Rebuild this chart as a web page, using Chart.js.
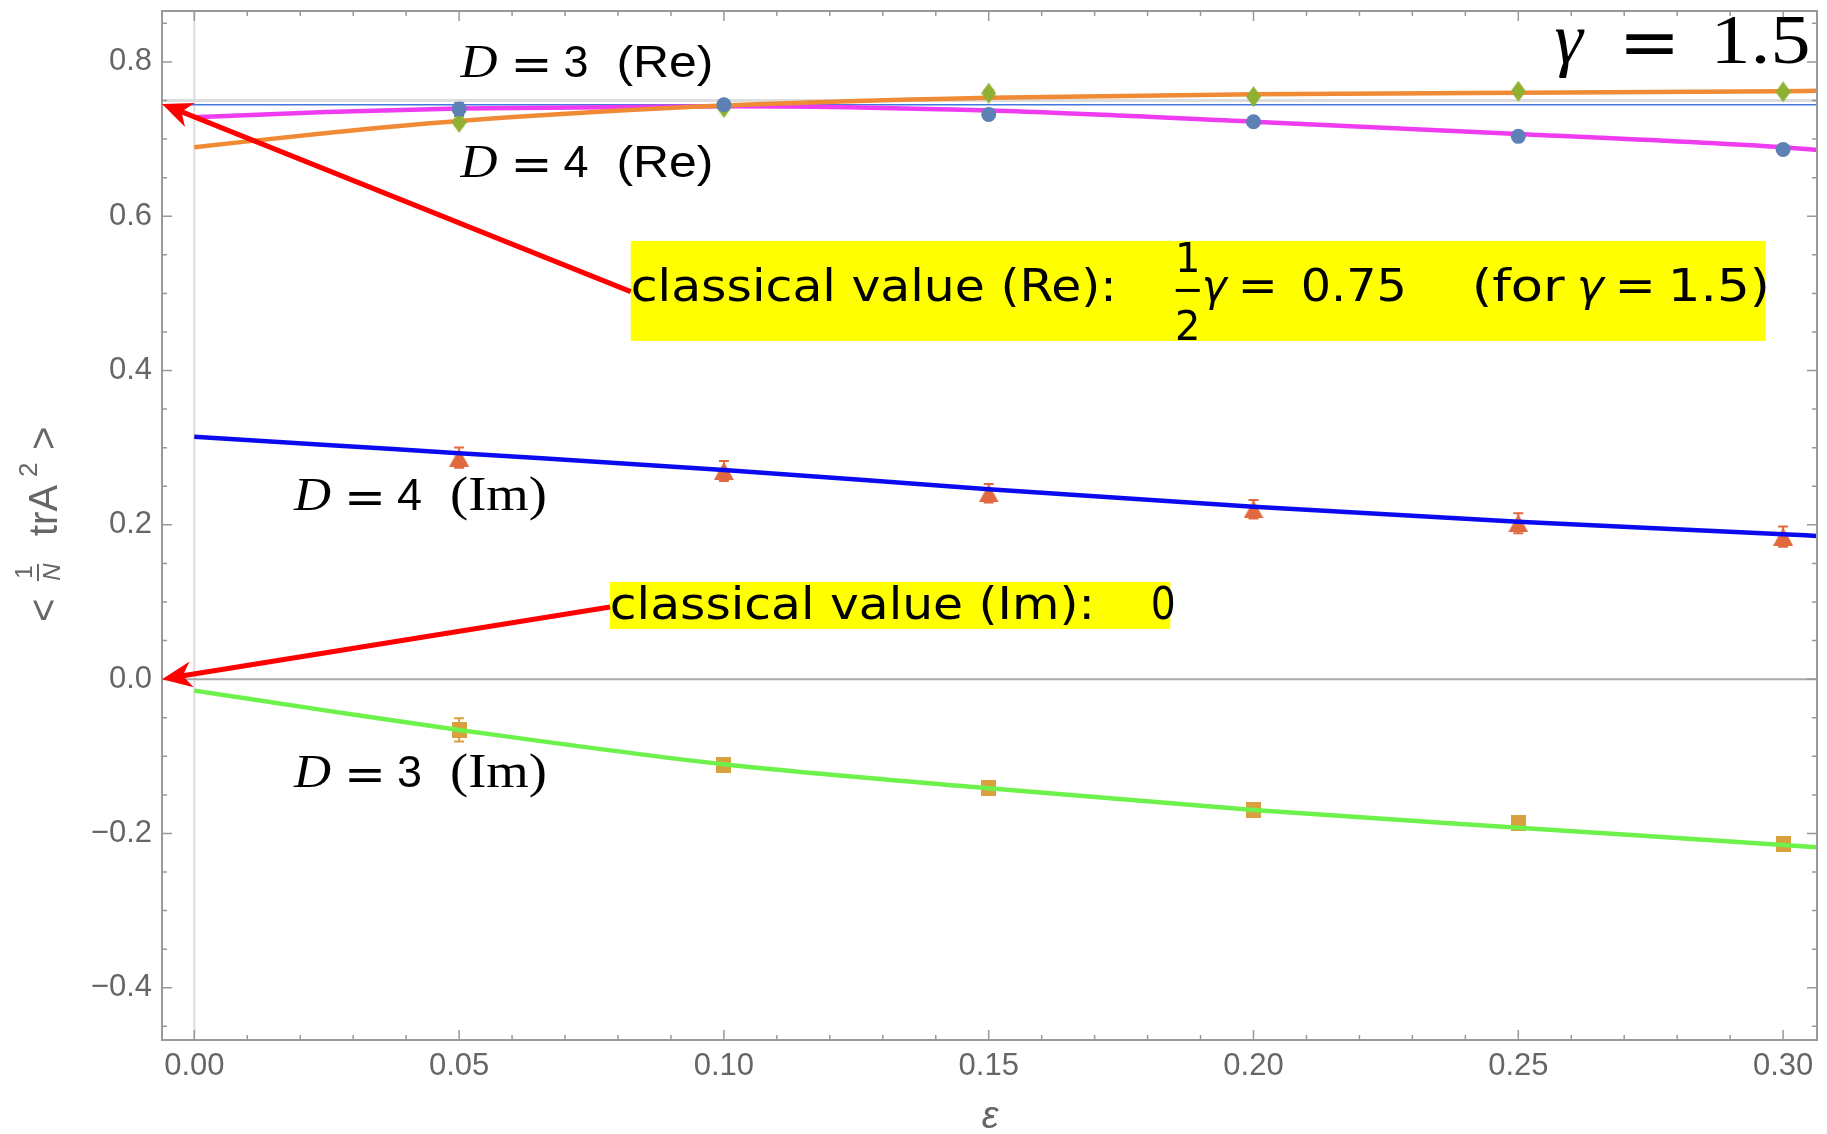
<!DOCTYPE html>
<html>
<head>
<meta charset="utf-8">
<script src="https://cdn.jsdelivr.net/npm/chart.js@4.4.1/dist/chart.umd.min.js"></script>
<style>
  html, body { margin: 0; padding: 0; background: #fff; }
  #wrap { width: 1827px; height: 1134px; }
</style>
</head>
<body>
<div id="wrap"><canvas id="chartTr" width="1827" height="1134"></canvas></div>
<script>
// measured points (epsilon) and their error bars
const eps = [0.05, 0.10, 0.15, 0.20, 0.25, 0.30];
const re3 = [0.7216, 0.7408, 0.7595, 0.7550, 0.7620, 0.7612];
const re3Err = [0.004, 0.003, 0.004, 0.003, 0.003, 0.003];
const re4 = [0.7390, 0.7445, 0.7320, 0.7225, 0.7035, 0.6865];
const re4Err = [0.009, 0.003, 0.003, 0.003, 0.003, 0.003];
const im4 = [0.2871, 0.2699, 0.2410, 0.2202, 0.2021, 0.1847];
const im4Err = [0.013, 0.013, 0.012, 0.012, 0.013, 0.013];
const im3 = [-0.0658, -0.1108, -0.1410, -0.1695, -0.1868, -0.2140];
const im3Err = [0.015, 0.004, 0.004, 0.004, 0.004, 0.004];

// fit curves
const curveX = [0, 0.025, 0.05, 0.10, 0.15, 0.20, 0.25, 0.30, 0.3064];
const fitRe3 = [0.6894, 0.7080, 0.7235, 0.7434, 0.7537, 0.7580, 0.7600, 0.7620, 0.7625];
const fitRe4 = [0.7283, 0.7352, 0.7395, 0.7425, 0.7369, 0.7226, 0.7067, 0.6894, 0.6860];
const fitIm4 = [0.3143, 0.3035, 0.2928, 0.2712, 0.2462, 0.2236, 0.2041, 0.1878, 0.1856];
const fitIm3 = [-0.0149, -0.0408, -0.0658, -0.1103, -0.1414, -0.1695, -0.1925, -0.2149, -0.2179];

const classicalRe = 0.75;
const extrapRe = 0.7445;

const xTicks = [0, 0.05, 0.10, 0.15, 0.20, 0.25, 0.30];
const xTickLabels = ["0.00", "0.05", "0.10", "0.15", "0.20", "0.25", "0.30"];
const yTicks = [-0.4, -0.2, 0, 0.2, 0.4, 0.6, 0.8];
const yTickLabels = ["\u22120.4", "\u22120.2", "0.0", "0.2", "0.4", "0.6", "0.8"];

const xMin = -0.0061, xMax = 0.3064;
const yMin = -0.4677, yMax = 0.866;

function pts(xs, ys) {
  return xs.map(function (x, i) { return { x: x, y: ys[i] }; });
}

function makeMarker(shape, w, h, color) {
  const c = document.createElement("canvas");
  c.width = w; c.height = h;
  const g = c.getContext("2d");
  g.fillStyle = color;
  g.beginPath();
  if (shape === "diamond") {
    g.moveTo(w / 2, 0); g.lineTo(w, h / 2); g.lineTo(w / 2, h); g.lineTo(0, h / 2);
  } else if (shape === "triangle") {
    g.moveTo(w / 2, 0); g.lineTo(w, h); g.lineTo(0, h);
  } else {
    g.rect(0, 0, w, h);
  }
  g.closePath();
  g.fill();
  return c;
}

const colBlue = "#5E81B5", colGreen = "#8FB032", colTri = "#E0693F", colSq = "#D9A040";

function curveSet(ys, color) {
  return {
    data: pts(curveX, ys), showLine: true, pointRadius: 0, borderColor: color,
    borderWidth: 4.5, cubicInterpolationMode: "monotone", order: 0
  };
}

function markSet(ys, errs, style, color, radius, order) {
  return {
    data: pts(eps, ys), errs: errs, showLine: false, pointStyle: style, pointRadius: radius,
    backgroundColor: color, borderColor: color, borderWidth: 0, order: order
  };
}

// text pieces: dx offset in px from anchor, w = target width in px
function drawPieces(ctx, x0, y0, pieces) {
  pieces.forEach(function (p) {
    ctx.font = p.font;
    ctx.fillStyle = p.color || "#000";
    ctx.textAlign = "left";
    ctx.textBaseline = "alphabetic";
    const w = ctx.measureText(p.text).width;
    const sx = p.w ? p.w / w : 1;
    ctx.save();
    ctx.translate(x0 + p.dx, y0 + (p.dy || 0));
    ctx.scale(sx, 1);
    ctx.fillText(p.text, 0, 0);
    ctx.restore();
  });
}

function dLabel(digit, paren, parenFont) {
  return [
    { text: "D", font: 'italic 47px "Liberation Serif"', dx: 0, w: 37 },
    { text: "=", font: '46px "DejaVu Sans"', dx: 50, w: 42, dy: 3 },
    { text: digit, font: '45px "Liberation Sans"', dx: 103, w: 25 },
    { text: paren, font: parenFont, dx: 156, w: 97 }
  ];
}

const annotations = {
  labels: [
    { x: 0.05026, y: 0.7806, pieces: dLabel("3", "(Re)", '45px "Liberation Sans"') },
    { x: 0.05026, y: 0.6513, pieces: dLabel("4", "(Re)", '45px "Liberation Sans"') },
    { x: 0.01882, y: 0.2193, pieces: dLabel("4", "(Im)", '48px "Liberation Serif"') },
    { x: 0.01882, y: -0.1397, pieces: dLabel("3", "(Im)", '48px "Liberation Serif"') },
    { x: 0.25647, y: 0.7991, pieces: [
      { text: "\u03B3", font: 'italic 72px "Liberation Serif"', dx: 2 },
      { text: "=", font: '70px "DejaVu Sans"', dx: 66, w: 62, dy: 3 },
      { text: "1.5", font: '70px "Liberation Serif"', dx: 158, w: 100 }
    ] }
  ],
  boxes: [
    { x1: 0.08241, x2: 0.29669, y1: 0.5680, y2: 0.4384, ty: 0.4902, pieces: [
      { text: "classical value (Re):", font: '44px "DejaVu Sans"', dx: 0, w: 486 },
      { text: "\u03B3", font: 'italic 44px "DejaVu Sans"', dx: 571, w: 25 },
      { text: "=", font: '44px "DejaVu Sans"', dx: 607, w: 40 },
      { text: "0.75", font: '44px "DejaVu Sans"', dx: 670, w: 106 },
      { text: "(for", font: '44px "DejaVu Sans"', dx: 841, w: 93 },
      { text: "\u03B3", font: 'italic 44px "DejaVu Sans"', dx: 946, w: 27 },
      { text: "=", font: '44px "DejaVu Sans"', dx: 984, w: 41 },
      { text: "1.5)", font: '44px "DejaVu Sans"', dx: 1037, w: 102 }
    ], frac: { dx: 557, num: "1", den: "2" } },
    { x1: 0.07846, x2: 0.18429, y1: 0.1260, y2: 0.0651, ty: 0.0780, pieces: [
      { text: "classical value (Im):", font: '44px "DejaVu Sans"', dx: 0, w: 485 },
      { text: "0", font: '44px "DejaVu Sans"', dx: 541, w: 25 }
    ] }
  ],
  arrows: [
    { x1: 0.0824, y1: 0.5023, x2: -0.0061, y2: 0.7456 },
    { x1: 0.0785, y1: 0.0936, x2: -0.0061, y2: 0.0 }
  ]
};

const framePlugin = {
  id: "framePlugin",
  beforeDatasetsDraw: function (chart) {
    const ctx = chart.ctx, a = chart.chartArea;
    const sx = chart.scales.x, sy = chart.scales.y;
    ctx.save();
    // axes through origin
    ctx.strokeStyle = "#dcdcdc"; ctx.lineWidth = 2;
    ctx.beginPath(); ctx.moveTo(sx.getPixelForValue(0), a.top); ctx.lineTo(sx.getPixelForValue(0), a.bottom); ctx.stroke();
    ctx.strokeStyle = "#a8a8a8"; ctx.lineWidth = 2;
    ctx.beginPath(); ctx.moveTo(a.left, sy.getPixelForValue(0)); ctx.lineTo(a.right, sy.getPixelForValue(0)); ctx.stroke();
    // error bars
    chart.data.datasets.forEach(function (ds) {
      if (!ds.errs) return;
      ctx.strokeStyle = ds.borderColor; ctx.lineWidth = 2;
      ds.data.forEach(function (p, i) {
        const x = sx.getPixelForValue(p.x);
        const t = sy.getPixelForValue(p.y + ds.errs[i]), b = sy.getPixelForValue(p.y - ds.errs[i]);
        ctx.beginPath();
        ctx.moveTo(x, t); ctx.lineTo(x, b);
        ctx.moveTo(x - 5, t); ctx.lineTo(x + 5, t);
        ctx.moveTo(x - 5, b); ctx.lineTo(x + 5, b);
        ctx.stroke();
      });
    });
    ctx.restore();
  },
  afterDatasetsDraw: function (chart) {
    const ctx = chart.ctx, a = chart.chartArea;
    const sx = chart.scales.x, sy = chart.scales.y;
    ctx.save();
    // frame with inward ticks
    ctx.strokeStyle = "#999"; ctx.lineWidth = 2;
    ctx.strokeRect(a.left, a.top, a.right - a.left, a.bottom - a.top);
    ctx.lineWidth = 1.5;
    ctx.beginPath();
    for (let i = 0; i <= 30; i++) {
      const v = i / 100, x = sx.getPixelForValue(v);
      const len = (i % 5 === 0) ? 10 : 5;
      ctx.moveTo(x, a.bottom); ctx.lineTo(x, a.bottom - len);
      ctx.moveTo(x, a.top); ctx.lineTo(x, a.top + len);
    }
    for (let j = -9; j <= 17; j++) {
      const v = j * 0.05, y = sy.getPixelForValue(v);
      const len = (j % 4 === 0) ? 10 : 5;
      ctx.moveTo(a.left, y); ctx.lineTo(a.left + len, y);
      ctx.moveTo(a.right, y); ctx.lineTo(a.right - len, y);
    }
    ctx.stroke();

    // yellow boxes with text
    annotations.boxes.forEach(function (b) {
      const x1 = sx.getPixelForValue(b.x1), x2 = sx.getPixelForValue(b.x2);
      const y1 = sy.getPixelForValue(b.y1), y2 = sy.getPixelForValue(b.y2);
      ctx.fillStyle = "#FFFF00";
      ctx.fillRect(x1, y1, x2 - x1, y2 - y1);
      const ty = sy.getPixelForValue(b.ty);
      drawPieces(ctx, x1, ty, b.pieces);
      if (b.frac) {
        ctx.fillStyle = "#000"; ctx.textAlign = "center"; ctx.textBaseline = "alphabetic";
        ctx.font = '40px "DejaVu Sans"';
        ctx.fillText(b.frac.num, x1 + b.frac.dx, ty - 29);
        ctx.fillText(b.frac.den, x1 + b.frac.dx, ty + 39);
        ctx.fillRect(x1 + b.frac.dx - 12, ty - 12, 24, 3);
      }
    });

    // red arrows
    annotations.arrows.forEach(function (ar) {
      const x1 = sx.getPixelForValue(ar.x1), y1 = sy.getPixelForValue(ar.y1);
      const x2 = sx.getPixelForValue(ar.x2), y2 = sy.getPixelForValue(ar.y2);
      const ang = Math.atan2(y1 - y2, x1 - x2);
      ctx.strokeStyle = "#FF0000"; ctx.fillStyle = "#FF0000"; ctx.lineWidth = 5;
      ctx.beginPath();
      ctx.moveTo(x1, y1);
      ctx.lineTo(x2 + 18 * Math.cos(ang), y2 + 18 * Math.sin(ang));
      ctx.stroke();
      ctx.save();
      ctx.translate(x2, y2); ctx.rotate(ang);
      ctx.beginPath();
      ctx.moveTo(0, 0);
      ctx.lineTo(30, -13);
      ctx.lineTo(21, 0);
      ctx.lineTo(30, 13);
      ctx.closePath();
      ctx.fill();
      ctx.restore();
    });

    // curve labels
    annotations.labels.forEach(function (l) {
      drawPieces(ctx, sx.getPixelForValue(l.x), sy.getPixelForValue(l.y), l.pieces);
    });
    ctx.restore();
  },
  afterDraw: function (chart) {
    const ctx = chart.ctx;
    ctx.save();
    ctx.fillStyle = "#666";
    ctx.textBaseline = "alphabetic";
    ctx.textAlign = "center";
    ctx.font = 'italic 38px "Liberation Sans"';
    ctx.fillText("\u03B5", 990, 1128);
    // y axis title, rotated
    ctx.translate(57, 522);
    ctx.rotate(-Math.PI / 2);
    ctx.textAlign = "left";
    ctx.font = '40px "Liberation Sans"';
    ctx.fillText("<", -100, 0);
    ctx.fillText("trA", -14, 0);
    ctx.fillText(">", 72, 0);
    ctx.font = '26px "Liberation Sans"';
    ctx.fillText("2", 45, -20);
    ctx.textAlign = "center";
    ctx.font = '24px "Liberation Sans"';
    ctx.fillText("1", -50, -25);
    ctx.font = 'italic 24px "Liberation Sans"';
    ctx.fillText("N", -50, 3);
    ctx.fillRect(-59, -20, 17, 2);
    ctx.restore();
  }
};

const ctx = document.getElementById("chartTr").getContext("2d");
const chartTr = new Chart(ctx, {
  type: "scatter",
  data: {
    datasets: [
      { data: [{ x: xMin, y: classicalRe }, { x: xMax, y: classicalRe }], showLine: true, pointRadius: 0,
        borderColor: "#dddddd", borderWidth: 3, order: 5 },
      { data: [{ x: xMin, y: extrapRe }, { x: xMax, y: extrapRe }], showLine: true, pointRadius: 0,
        borderColor: "#4477DD", borderWidth: 1.5, order: 4 },
      markSet(re4, re4Err, "circle", colBlue, 7.5, -1),
      markSet(re3, re3Err, makeMarker("diamond", 15, 21, colGreen), colGreen, 10, -1),
      markSet(im4, im4Err, makeMarker("triangle", 20, 18, colTri), colTri, 10, 2),
      markSet(im3, im3Err, makeMarker("square", 15, 16, colSq), colSq, 8, 2),
      curveSet(fitRe3, "#F08A35"),
      curveSet(fitRe4, "#F03CF0"),
      curveSet(fitIm4, "#0A0AF0"),
      curveSet(fitIm3, "#6DF24B")
    ]
  },
  options: {
    responsive: false,
    devicePixelRatio: 1,
    animation: false,
    layout: { padding: { left: 0, right: 2, top: 11, bottom: 0 } },
    plugins: { legend: { display: false }, tooltip: { enabled: false } },
    scales: {
      x: {
        type: "linear", min: xMin, max: xMax,
        afterFit: function (s) { s.height = 94; s.paddingLeft = 0; s.paddingRight = 0; },
        afterBuildTicks: function (s) { s.ticks = xTicks.map(function (v) { return { value: v }; }); },
        grid: { display: false, drawTicks: false },
        border: { display: false },
        ticks: {
          padding: 8, color: "#666", maxRotation: 0, autoSkip: false,
          font: { family: "Liberation Sans", size: 31 },
          callback: function (v, i) { return xTickLabels[i]; }
        }
      },
      y: {
        type: "linear", min: yMin, max: yMax,
        afterFit: function (s) { s.width = 162; s.paddingTop = 0; s.paddingBottom = 0; },
        afterBuildTicks: function (s) { s.ticks = yTicks.map(function (v) { return { value: v }; }); },
        grid: { display: false, drawTicks: false },
        border: { display: false },
        ticks: {
          padding: 10, color: "#666", autoSkip: false,
          font: { family: "Liberation Sans", size: 31 },
          callback: function (v, i) { return yTickLabels[i]; }
        }
      }
    }
  },
  plugins: [framePlugin]
});
</script>
</body>
</html>
